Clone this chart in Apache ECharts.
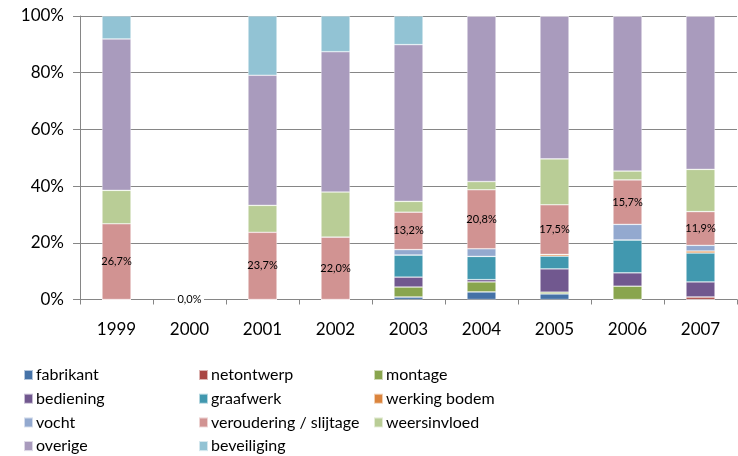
<!DOCTYPE html>
<html>
<head>
<meta charset="utf-8">
<script src="https://cdn.jsdelivr.net/npm/echarts@6/dist/echarts.min.js"></script>
<style>html,body{margin:0;padding:0;background:#fff}#c{width:738px;height:456px}</style>
</head>
<body>
<div id="c"></div>
<script>
var years = ['1999','2000','2001','2002','2003','2004','2005','2006','2007'];
var seriesNames = ['fabrikant','netontwerp','montage','bediening','graafwerk','werking bodem','vocht','veroudering / slijtage','weersinvloed','overige','beveiliging'];
var colors = ['#4572A7','#AA4643','#89A54E','#71588F','#4198AF','#DB843D','#93A9CF','#D19392','#B9CD96','#A99BBD','#92C3D4'];
var fabrikant   = [0, 0, 0, 0, 0.9, 2.7, 2.0, 0, 0];
var netontwerp  = [0, 0, 0, 0, 0, 0, 0, 0, 0.9];
var montage     = [0, 0, 0, 0, 3.5, 3.5, 0.6, 4.7, 0];
var bediening   = [0, 0, 0, 0, 3.5, 0.8, 8.2, 4.7, 5.3];
var graafwerk   = [0, 0, 0, 0, 7.8, 8.2, 4.5, 11.6, 10.2];
var werkingBodem= [0, 0, 0, 0, 0, 0, 0.6, 0, 0.7];
var vocht       = [0, 0, 0, 0, 1.9, 2.7, 0, 5.5, 2.0];
var veroudering = [26.7, 0, 23.7, 22.0, 13.2, 20.8, 17.5, 15.7, 11.9];
var weersinvloed= [11.8, 0, 9.5, 15.9, 3.8, 2.9, 16.2, 3.1, 14.9];
var overige     = [53.4, 0, 45.9, 49.5, 55.3, 58.4, 50.4, 54.7, 54.1];
var beveiliging = [8.1, 0, 20.9, 12.6, 10.1, 0, 0, 0, 0];
var yTicks = [0, 20, 40, 60, 80, 100];

var allData = [fabrikant, netontwerp, montage, bediening, graafwerk, werkingBodem, vocht, veroudering, weersinvloed, overige, beveiliging];
var font = 'Lato, "Open Sans", sans-serif';

var series = seriesNames.map(function(n, i){
  var s = {
    name: n, type: 'bar', stack: 'total', barWidth: 29,
    data: allData[i],
    itemStyle: {color: colors[i], borderColor: 'rgba(255,255,255,0.6)', borderWidth: 0.6},
    emphasis: {disabled: true}
  };
  if (n === 'veroudering / slijtage') {
    s.label = {show: true, position: 'inside', color: '#000', fontSize: 11, fontFamily: font,
      formatter: function(p){ return p.value.toFixed(1).replace('.', ',') + '%'; }};
  }
  return s;
});

function legend(names, left){
  return {
    data: names, orient: 'vertical', left: left, top: 367, padding: 0,
    itemWidth: 9, itemHeight: 10, itemGap: 7.7, icon: 'rect',
    textStyle: {fontSize: 16, lineHeight: 16, fontFamily: font, color: '#000', padding: [0,0,0,-2]},
    selectedMode: false
  };
}

var chart = echarts.init(document.getElementById('c'));
chart.setOption({
  animation: false,
  grid: {left: 80, right: 1, top: 16, bottom: 156.5, containLabel: false},
  legend: [
    legend(['fabrikant','bediening','vocht','overige'], 23),
    legend(['netontwerp','graafwerk','veroudering / slijtage','beveiliging'], 198),
    legend(['montage','werking bodem','weersinvloed'], 373)
  ],
  xAxis: {
    type: 'category', data: years, boundaryGap: true,
    axisLine: {lineStyle: {color: '#868686', width: 1}},
    axisTick: {show: true, length: 5, lineStyle: {color: '#868686'}},
    axisLabel: {fontSize: 17, fontFamily: font, color: '#000', margin: 22}
  },
  yAxis: {
    type: 'value', min: 0, max: 100, interval: 20,
    axisLine: {show: true, lineStyle: {color: '#868686'}},
    axisTick: {show: true, length: 7, lineStyle: {color: '#868686'}},
    splitLine: {lineStyle: {color: '#868686'}},
    axisLabel: {fontSize: 17, fontFamily: font, color: '#000', margin: 16,
      formatter: function(v){ return yTicks.indexOf(v) >= 0 ? v + '%' : ''; }}
  },
  series: series
});
</script>
</body>
</html>
